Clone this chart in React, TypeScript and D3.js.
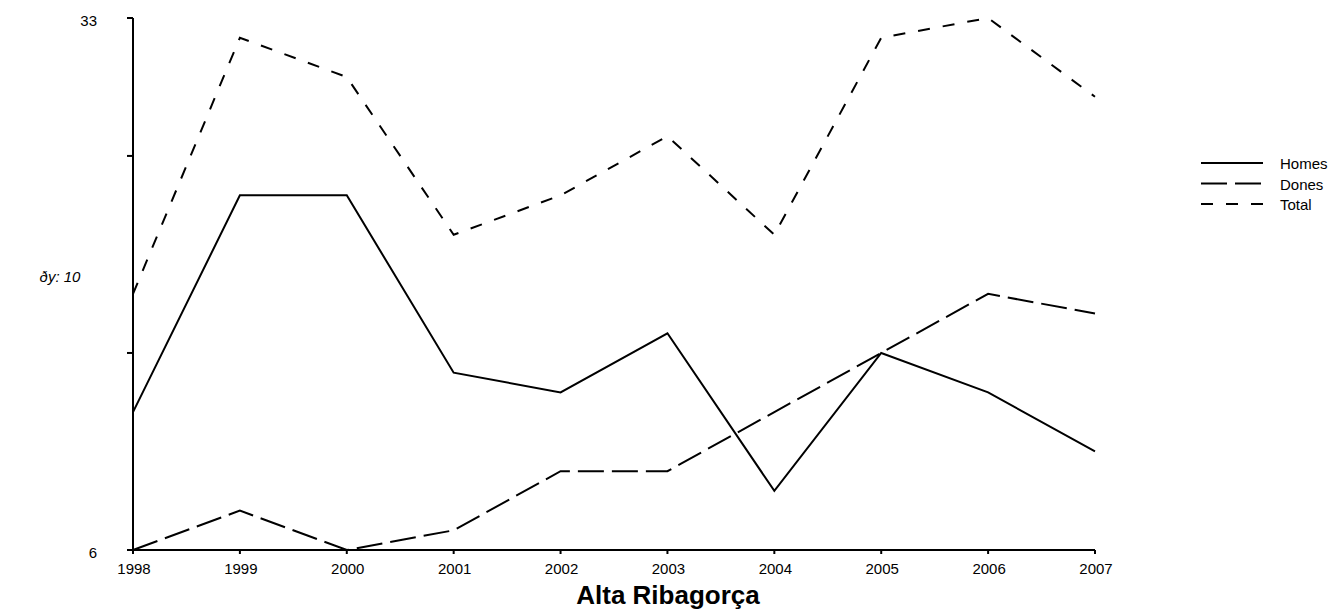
import React from 'react';
import * as d3 from 'd3';

const years = [1998, 1999, 2000, 2001, 2002, 2003, 2004, 2005, 2006, 2007];
const homes = [13, 24, 24, 15, 14, 17, 9, 16, 14, 11];
const dones = [6, 8, 6, 7, 10, 10, 13, 16, 19, 18];
const total = [19, 32, 30, 22, 24, 27, 22, 32, 33, 29];
const yTicks = [6, 16, 26, 33];
const yLabels = [6, 33];

const seriesList = [
  { name: 'Homes', values: homes, dash: 'none' },
  { name: 'Dones', values: dones, dash: '26,8' },
  { name: 'Total', values: total, dash: '12,13' },
];

const W = 1333;
const H = 612;
const font = 'Liberation Sans, Arial, sans-serif';

const App: React.FC = () => {
  const x = d3.scaleLinear().domain([1998, 2007]).range([133, 1095]);
  const y = d3.scaleLinear().domain([6, 33]).range([550, 18]);

  const line = (vals: number[]) =>
    d3
      .line<number>()
      .x((_, i) => x(years[i]))
      .y((d) => y(d))(vals) as string;

  return (
    <svg
      width={W}
      height={H}
      style={{ position: 'absolute', left: 0, top: 0, background: '#fff' }}
      fontFamily={font}
    >
      {/* axes */}
      <line x1={x(1998)} x2={x(1998)} y1={y(33)} y2={y(6)} stroke="#000" strokeWidth={2} />
      <line x1={x(1998)} x2={x(2007)} y1={y(6)} y2={y(6)} stroke="#000" strokeWidth={2} />
      {yTicks.map((t) => (
        <line key={t} x1={x(1998) - 6} x2={x(1998)} y1={y(t)} y2={y(t)} stroke="#000" strokeWidth={2} />
      ))}
      {yLabels.map((t) => (
        <text key={t} x={97} y={y(t) + 8} textAnchor="end" fontSize={15}>
          {t}
        </text>
      ))}
      {years.map((yr) => (
        <g key={yr}>
          <line x1={x(yr)} x2={x(yr)} y1={y(6)} y2={y(6) + 4} stroke="#000" strokeWidth={2} />
          <text x={x(yr) + 1} y={574} textAnchor="middle" fontSize={15}>
            {yr}
          </text>
        </g>
      ))}

      <text x={60} y={282} textAnchor="middle" fontSize={15} fontStyle="italic">
        ðy: 10
      </text>
      <text x={668} y={604} textAnchor="middle" fontSize={26} fontWeight="bold">
        Alta Ribagorça
      </text>

      {/* series */}
      {seriesList.map((s) => (
        <path
          key={s.name}
          d={line(s.values)}
          fill="none"
          stroke="#000"
          strokeWidth={2}
          strokeDasharray={s.dash}
        />
      ))}

      {/* legend */}
      {seriesList.map((s, i) => (
        <g key={s.name} transform={`translate(1201, ${163 + i * 20.5})`}>
          <line x1={0} x2={62} y1={0} y2={0} stroke="#000" strokeWidth={2} strokeDasharray={s.dash} />
          <text x={79} y={6} fontSize={15}>
            {s.name}
          </text>
        </g>
      ))}
    </svg>
  );
};

export default App;
